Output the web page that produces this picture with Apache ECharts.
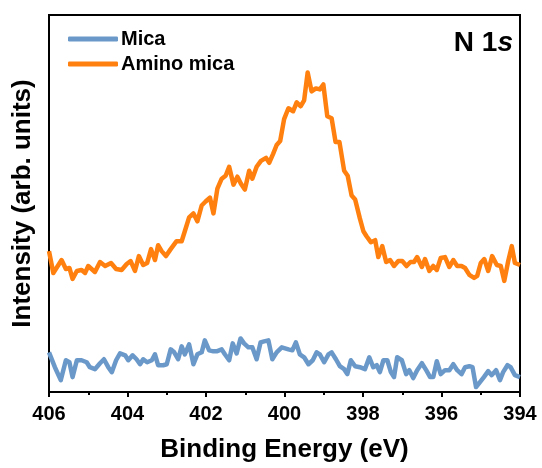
<!DOCTYPE html>
<html>
<head>
<meta charset="utf-8">
<script src="https://cdn.jsdelivr.net/npm/echarts@6/dist/echarts.min.js"></script>
<style>html,body{margin:0;padding:0;background:#fff}#c{width:542px;height:468px}</style>
</head>
<body>
<div id="c"></div>
<script>
// Amino mica: binding energy (eV) and intensity (arb. units)
var aminoE = [406.00,405.89,405.68,405.57,405.48,405.40,405.29,405.17,405.08,405.00,404.83,404.70,404.57,404.42,404.29,404.15,404.02,403.92,403.81,403.71,403.60,403.50,403.40,403.30,403.22,403.13,403.02,402.90,402.75,402.62,402.54,402.43,402.32,402.22,402.11,402.01,401.90,401.81,401.71,401.60,401.50,401.41,401.30,401.20,401.11,401.01,400.90,400.82,400.71,400.60,400.47,400.39,400.29,400.20,400.11,400.01,399.90,399.78,399.69,399.59,399.50,399.41,399.31,399.20,399.10,399.01,398.91,398.80,398.70,398.60,398.48,398.39,398.29,398.20,398.08,397.99,397.91,397.80,397.69,397.61,397.51,397.41,397.31,397.21,397.10,397.00,396.89,396.79,396.70,396.62,396.50,396.42,396.31,396.21,396.12,396.02,395.91,395.80,395.70,395.60,395.49,395.40,395.29,395.17,395.09,395.00,394.91,394.81,394.71,394.59,394.49,394.40,394.30,394.21,394.13,394.00];
var aminoI = [142,120,133,124,125,114,122,123,120,127,121,131,127,130,124,123,129,132,122,137,128,130,144,133,148,142,137,144,152,152,162,176,180,172,188,192,196,180,205,215,218,227,209,217,210,204,223,215,227,233,236,231,240,249,253,275,286,283,292,288,294,322,303,306,305,310,278,276,252,252,223,218,198,194,175,162,157,151,153,136,147,131,133,127,132,132,127,131,131,136,126,134,122,127,123,135,136,126,133,127,127,125,118,115,117,130,134,122,137,128,127,112,132,147,130,128];
// Mica
var micaE = [406.00,405.85,405.70,405.57,405.48,405.40,405.29,405.17,405.04,404.96,404.83,404.70,404.60,404.49,404.40,404.29,404.19,404.06,403.98,403.87,403.77,403.68,403.60,403.50,403.38,403.30,403.22,403.09,403.00,402.90,402.81,402.71,402.62,402.54,402.43,402.32,402.22,402.11,402.03,401.92,401.81,401.73,401.60,401.52,401.41,401.32,401.22,401.12,401.03,400.92,400.82,400.71,400.61,400.52,400.41,400.31,400.20,400.07,399.90,399.80,399.71,399.61,399.50,399.39,399.28,399.18,399.10,398.99,398.88,398.80,398.69,398.59,398.48,398.40,398.31,398.20,398.08,397.95,397.84,397.74,397.65,397.57,397.48,397.38,397.29,397.21,397.13,397.01,396.90,396.82,396.72,396.62,396.50,396.39,396.29,396.21,396.12,396.02,395.91,395.80,395.70,395.60,395.49,395.40,395.29,395.21,395.12,395.02,394.92,394.81,394.72,394.61,394.51,394.43,394.32,394.24,394.13,394.00];
var micaI = [40,25,12,32,30,15,32,32,30,25,23,29,33,25,20,32,39,37,32,37,33,28,33,30,32,38,27,27,28,43,40,33,46,38,48,28,38,40,52,42,41,41,43,38,32,49,39,54,49,45,45,33,50,51,52,33,40,45,43,42,50,38,35,28,32,40,38,30,38,40,33,26,23,18,32,26,25,23,35,25,27,20,32,32,20,15,35,32,18,22,14,22,29,22,15,15,31,18,22,22,28,22,18,25,26,25,5,10,15,21,17,22,12,20,27,25,17,15];
var xTicks = [394,396,398,400,402,404,406];
var seriesNames = ['Mica','Amino mica'];

function pairs(e, v){ var o=[]; for(var i=0;i<e.length;i++) o.push([e[i], v[i]]); return o; }

var font = "'Liberation Sans', Arial, sans-serif";
var chart = echarts.init(document.getElementById('c'), null, {renderer:'canvas'});
chart.setOption({
  animation:false,
  backgroundColor:'#fff',
  grid:{left:49, right:22, top:15, bottom:73, show:true, borderColor:'#000', borderWidth:2, backgroundColor:'transparent'},
  title:{
    text:'{a|N 1}{b|s}', right:29, top:29, padding:0,
    textStyle:{rich:{
      a:{fontFamily:font, fontWeight:'bold', fontStyle:'normal', fontSize:28, color:'#000'},
      b:{fontFamily:font, fontWeight:'bold', fontStyle:'italic', fontSize:28, color:'#000'}
    }}
  },
  legend:{
    orient:'vertical', left:63, top:24, itemGap:5,
    itemWidth:50, itemHeight:5, icon:'roundRect',
    data:seriesNames,
    textStyle:{fontFamily:font, fontWeight:'bold', fontSize:20, color:'#000', padding:[0,0,0,-2]}
  },
  xAxis:{
    type:'value', min:394, max:406, interval:2, inverse:true,
    name:'Binding Energy (eV)', nameLocation:'middle', nameGap:45,
    nameTextStyle:{fontFamily:font, fontWeight:'bold', fontSize:26, color:'#000'},
    axisLine:{show:true, lineStyle:{color:'#000', width:2}},
    axisTick:{show:true, inside:false, length:5, lineStyle:{color:'#000', width:2}},
    minorTick:{show:true, splitNumber:2, length:3, lineStyle:{color:'#000', width:2}},
    axisLabel:{fontFamily:font, fontWeight:'bold', fontSize:20, color:'#000', margin:12,
      formatter:function(v){ return xTicks.indexOf(v)>=0 ? String(v) : ''; }},
    splitLine:{show:false}
  },
  yAxis:{
    type:'value', min:0, max:380,
    name:'Intensity (arb. units)', nameLocation:'middle', nameGap:13,
    nameTextStyle:{fontFamily:font, fontWeight:'bold', fontSize:26, color:'#000'},
    axisLine:{show:true, lineStyle:{color:'#000', width:2}},
    axisTick:{show:false}, axisLabel:{show:false}, splitLine:{show:false}
  },
  series:[
    {name:seriesNames[0], type:'line', data:pairs(micaE, micaI), showSymbol:false, symbol:'none',
     lineStyle:{color:'#6a99c9', width:4.5, join:'round'}, itemStyle:{color:'#6a99c9'}},
    {name:seriesNames[1], type:'line', data:pairs(aminoE, aminoI), showSymbol:false, symbol:'none',
     lineStyle:{color:'#ff800e', width:4.5, join:'round'}, itemStyle:{color:'#ff800e'}}
  ]
});
</script>
</body>
</html>
